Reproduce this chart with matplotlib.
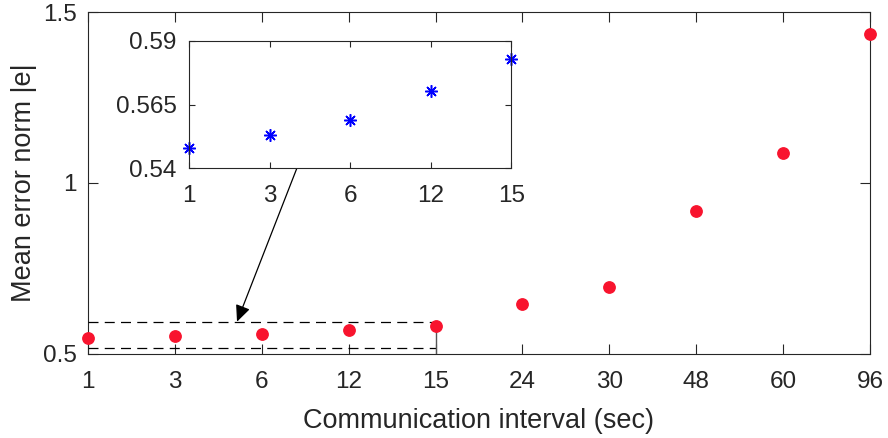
import matplotlib
matplotlib.use("Agg")
import matplotlib.pyplot as plt

plt.rcParams['font.family'] = ['Liberation Sans', 'DejaVu Sans']

intervals = ['1', '3', '6', '12', '15', '24', '30', '48', '60', '96']
errors = [0.5477, 0.5529, 0.5588, 0.5703, 0.5828, 0.647, 0.695, 0.917, 1.087, 1.436]
zoom_labels = intervals[:5]
zoom_errors = errors[:5]
y_ticks = [0.5, 1.0, 1.5]
y_tick_labels = ['0.5', '1', '1.5']
zoom_y_ticks = [0.54, 0.565, 0.59]
zoom_y_tick_labels = ['0.54', '0.565', '0.59']

dark = '#262626'
red = '#F8142E'
tick_fs = 17.5
label_fs = 19.5

fig = plt.figure(figsize=(8.88, 4.38), dpi=100)
ax = fig.add_axes([0.0991, 0.1918, 0.9797 - 0.0991, 0.9726 - 0.1918])

pos = list(range(1, len(intervals) + 1))
ax.plot(pos, errors, linestyle='none', marker='o', markersize=8.2,
        color=red, markeredgecolor=red, clip_on=False, zorder=5)
ax.set_xlim(1, 10)
ax.set_ylim(0.5, 1.5)
ax.set_xticks(pos)
ax.set_xticklabels(intervals)
ax.set_yticks(y_ticks)
ax.set_yticklabels(y_tick_labels)
ax.tick_params(direction='in', top=True, right=True, length=7, width=0.8,
               colors=dark, labelsize=tick_fs)
ax.tick_params(axis='y', pad=8)
ax.tick_params(axis='x', pad=12)
for s in ax.spines.values():
    s.set_color(dark)
    s.set_linewidth(0.8)
ax.set_xlabel('Communication interval (sec)', fontsize=label_fs, color=dark, labelpad=11)
ax.set_ylabel('Mean error norm |e|', fontsize=label_fs, color=dark, labelpad=4)

# dashed zoom rectangle
r_top, r_bot = 0.5944, 0.5184
ax.plot([1, 5], [r_top, r_top], linestyle=(0, (8, 5)), color='black', lw=0.9, zorder=3)
ax.plot([1, 5], [r_bot, r_bot], linestyle=(0, (8, 5)), color='black', lw=0.9, zorder=3)
ax.plot([5, 5], [0.5, r_top], linestyle='-', color='#555555', lw=1.0, zorder=3)

# arrow
ax.annotate('', xy=(2.715, r_top), xytext=(3.405, 1.0439),
            arrowprops=dict(arrowstyle='-|>,head_length=1.0,head_width=0.45',
                            color='black', lw=0.9, shrinkA=0, shrinkB=0),
            zorder=6)

# inset
ins = fig.add_axes([0.213, 0.6164, 0.3626, 0.29])
zpos = list(range(1, len(zoom_labels) + 1))
ins.plot(zpos, zoom_errors, linestyle='none', marker=(8, 2, 0), markersize=9,
         color='blue', markeredgewidth=1.1, clip_on=False)
ins.set_xlim(1, 5)
ins.set_ylim(0.54, 0.59)
ins.set_xticks(zpos)
ins.set_xticklabels(zoom_labels)
ins.set_yticks(zoom_y_ticks)
ins.set_yticklabels(zoom_y_tick_labels)
ins.tick_params(direction='in', top=True, right=True, length=4, width=0.8,
                colors=dark, labelsize=tick_fs)
ins.tick_params(axis='y', pad=9)
ins.tick_params(axis='x', pad=12)
for s in ins.spines.values():
    s.set_color(dark)
    s.set_linewidth(0.8)

fig.savefig('out.png', dpi=100)
